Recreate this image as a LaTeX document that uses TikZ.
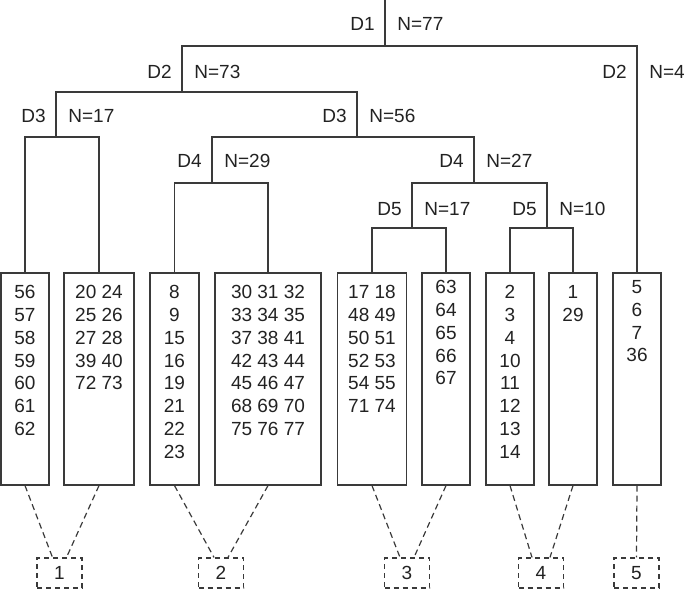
\documentclass[tikz,border=0pt]{standalone}
\usepackage{fontspec}
\setmainfont{Liberation Sans}
\usepackage{tikz}
\usetikzlibrary{positioning}
\definecolor{treeline}{HTML}{3A3A3A}
\definecolor{treetext}{HTML}{222222}
\tikzset{
    leaf-box/.style = {draw=treeline, line width=0.6pt, rectangle, inner sep=0pt, minimum height=106pt},
    leaf-text/.style = {text=treetext, align=center, inner sep=0pt, font=\fontsize{9.5}{11.4}\selectfont},
    group-box/.style = {draw=treeline, line width=0.6pt, dash pattern=on 2.5pt off 2pt, rectangle, inner sep=0pt, minimum width=22.5pt, minimum height=15pt, text=treetext, font=\fontsize{9.5}{11.4}\selectfont},
    split-left/.style = {anchor=east, inner sep=0pt, xshift=-5pt, text=treetext, font=\fontsize{9.5}{11.4}\selectfont},
    split-right/.style = {anchor=west, inner sep=0pt, xshift=6pt, text=treetext, font=\fontsize{9.5}{11.4}\selectfont},
    tree/.style = {draw=treeline, line width=0.6pt},
    link/.style = {draw=treeline, line width=0.6pt, dash pattern=on 3pt off 2pt},
}

\begin{document}
\begin{tikzpicture}[x=0.5pt, y=-0.5pt]
\useasboundingbox (0,0) rectangle (685,589);

\node [leaf-box, minimum width=24pt] (b1) at (25,379) {};
\node [leaf-box, minimum width=35pt] (b2) at (99,379) {};
\node [leaf-box, minimum width=24.5pt] (b3) at (174.5,379) {};
\node [leaf-box, minimum width=53pt] (b4) at (268,379) {};
\node [leaf-box, minimum width=34.5pt] (b5) at (372,379) {};
\node [leaf-box, minimum width=24pt] (b6) at (446,379) {};
\node [leaf-box, minimum width=24pt] (b7) at (510,379) {};
\node [leaf-box, minimum width=24pt] (b8) at (573,379) {};
\node [leaf-box, minimum width=24pt] (b9) at (637,379) {};

\node [leaf-text, below=6.3pt of b1.north] (t1) {56\\57\\58\\59\\60\\61\\62};
\node [leaf-text, below=6.3pt of b2.north] (t2) {20 24\\25 26\\27 28\\39 40\\72 73};
\node [leaf-text, below=6.3pt of b3.north] (t3) {8\\9\\15\\16\\19\\21\\22\\23};
\node [leaf-text, below=6.3pt of b4.north] (t4) {30 31 32\\33 34 35\\37 38 41\\42 43 44\\45 46 47\\68 69 70\\75 76 77};
\node [leaf-text, below=6.3pt of b5.north] (t5) {17 18\\48 49\\50 51\\52 53\\54 55\\71 74};
\node [leaf-text, below=3.8pt of b6.north] (t6) {63\\64\\65\\66\\67};
\node [leaf-text, below=6.3pt of b7.north] (t7) {2\\3\\4\\10\\11\\12\\13\\14};
\node [leaf-text, below=6.3pt of b8.north] (t8) {1\\29};
\node [leaf-text, below=3.8pt of b9.north] (t9) {5\\6\\7\\36};

\coordinate (top) at (385,0);
\coordinate (s1) at (385,46);
\coordinate (s2) at (182,92);
\coordinate (s3) at (56,137);
\coordinate (s4) at (357,137);
\coordinate (s5) at (212,183);
\coordinate (s6) at (474,183);
\coordinate (s7) at (412,228);
\coordinate (s8) at (547,228);

\draw [tree] (top) -- (s1);
\draw [tree] (s2) |- (s1) -| (b9.north);
\draw [tree] (s3) |- (s2) -| (s4);
\draw [tree] (b1.north) |- (s3) -| (b2.north);
\draw [tree] (s5) |- (s4) -| (s6);
\draw [tree] (b3.north) |- (s5) -| (b4.north);
\draw [tree] (s7) |- (s6) -| (s8);
\draw [tree] (b5.north) |- (s7) -| (b6.north);
\draw [tree] (b7.north) |- (s8) -| (b8.north);

\node [split-left] (d1) at (385,24) {D1};
\node [split-right] (n1) at (385,24) {N=77};
\node [split-left] (d2a) at (182,72) {D2};
\node [split-right] (n2a) at (182,72) {N=73};
\node [split-left] (d2b) at (637,72) {D2};
\node [split-right] (n2b) at (637,72) {N=4};
\node [split-left] (d3a) at (56,116) {D3};
\node [split-right] (n3a) at (56,116) {N=17};
\node [split-left] (d3b) at (357,116) {D3};
\node [split-right] (n3b) at (357,116) {N=56};
\node [split-left] (d4a) at (212,161) {D4};
\node [split-right] (n4a) at (212,161) {N=29};
\node [split-left] (d4b) at (474,161) {D4};
\node [split-right] (n4b) at (474,161) {N=27};
\node [split-left] (d5a) at (412,209) {D5};
\node [split-right] (n5a) at (412,209) {N=17};
\node [split-left] (d5b) at (547,209) {D5};
\node [split-right] (n5b) at (547,209) {N=10};

\node [group-box] (g1) at (59.5,573) {1};
\node [group-box] (g2) at (221,573) {2};
\node [group-box] (g3) at (407,573) {3};
\node [group-box] (g4) at (541,573) {4};
\node [group-box] (g5) at (636.5,573) {5};

\draw [link] (b1.south) -- ([xshift=-3.5pt]g1.north);
\draw [link] (b2.south) -- ([xshift=3.5pt]g1.north);
\draw [link] (b3.south) -- ([xshift=-3.5pt]g2.north);
\draw [link] (b4.south) -- ([xshift=3.5pt]g2.north);
\draw [link] (b5.south) -- ([xshift=-3.5pt]g3.north);
\draw [link] (b6.south) -- ([xshift=3.5pt]g3.north);
\draw [link] (b7.south) -- ([xshift=-4.5pt]g4.north);
\draw [link] (b8.south) -- ([xshift=4.5pt]g4.north);
\draw [link] (b9.south) -- (g5.north);
\end{tikzpicture}
\end{document}
